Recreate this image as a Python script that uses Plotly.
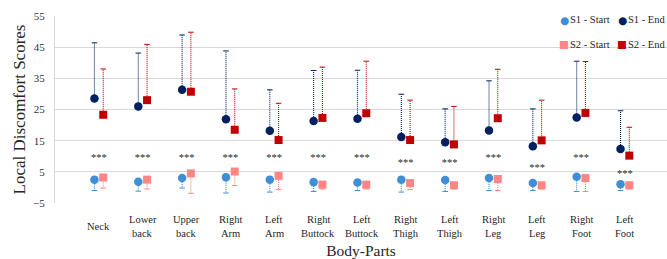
import plotly.graph_objects as go

categories = ["Neck", "Lower<br>back", "Upper<br>back", "Right<br>Arm", "Left<br>Arm",
              "Right<br>Buttock", "Left<br>Buttock", "Right<br>Thigh", "Left<br>Thigh",
              "Right<br>Leg", "Left<br>Leg", "Right<br>Foot", "Left<br>Foot"]

s1_start = [2.5, 1.8, 3.0, 3.3, 2.5, 1.7, 1.6, 2.5, 2.4, 3.0, 1.4, 3.4, 1.0]
s1_start_lo = [-1.0, -1.2, -0.2, -1.8, -1.5, -1.3, -1.0, -1.5, -1.3, -1.0, -1.0, -1.3, -1.0]
s2_start = [3.2, 2.5, 4.5, 5.1, 3.7, 0.9, 0.9, 1.4, 0.7, 2.7, 0.7, 3.0, 0.7]
s2_start_lo = [-0.2, -0.5, -1.9, 0.6, -0.7, -0.5, -0.5, -0.7, -0.5, -1.0, -0.5, -1.3, -0.5]

s1_end = [28.5, 26.0, 31.3, 21.9, 18.2, 21.3, 22.0, 16.2, 14.5, 18.3, 13.2, 22.4, 12.3]
s1_end_hi = [46.4, 43.1, 48.9, 43.8, 31.3, 37.5, 37.6, 29.9, 25.2, 34.2, 25.2, 40.5, 24.6]
s2_end = [23.3, 28.0, 30.7, 18.5, 15.2, 22.3, 23.8, 15.2, 13.8, 22.2, 15.1, 23.9, 10.2]
s2_end_hi = [38.0, 45.9, 49.8, 31.6, 27.0, 38.6, 40.5, 28.0, 26.0, 37.9, 28.0, 40.4, 19.3]

star_y = [9.2, 9.2, 9.2, 9.2, 9.2, 9.2, 9.2, 7.8, 7.8, 9.2, 6.1, 9.2, 4.2]

series_names = ["S1 - Start", "S1 - End", "S2 - Start", "S2 - End"]

C_S1S = "#3F8FD6"
C_S1E = "#002060"
C_S2S = "#FF8585"
C_S2E = "#C00000"
FONT = "Liberation Serif"
TXT = "#262626"

pos = list(range(1, len(categories) + 1))
OFF = 0.1
x1 = [p - OFF for p in pos]
x2 = [p + OFF for p in pos]

fig = go.Figure()


def bars(xs, y0, y1, color):
    lx, ly = [], []
    for x, a, b in zip(xs, y0, y1):
        lx += [x, x, None]
        ly += [a, b, None]
    fig.add_trace(go.Scatter(x=lx, y=ly, mode="lines", showlegend=False, hoverinfo="skip",
                             line=dict(color=color, width=1.1, dash="1px,1px")))
    fig.add_trace(go.Scatter(x=xs, y=y1, mode="markers", showlegend=False, hoverinfo="skip",
                             marker=dict(symbol="line-ew", size=4,
                                         line=dict(color=color, width=1))))


bars(x1, s1_end, s1_end_hi, C_S1E)
bars(x2, s2_end, s2_end_hi, C_S2E)
bars(x1, s1_start, s1_start_lo, C_S1S)
bars(x2, s2_start, s2_start_lo, C_S2S)

fig.add_trace(go.Scatter(x=x1, y=s1_start, mode="markers", name=series_names[0], showlegend=False,
                         marker=dict(symbol="circle", size=8.5, color=C_S1S)))
fig.add_trace(go.Scatter(x=x1, y=s1_end, mode="markers", name=series_names[1], showlegend=False,
                         marker=dict(symbol="circle", size=8.5, color=C_S1E)))
fig.add_trace(go.Scatter(x=x2, y=s2_start, mode="markers", name=series_names[2], showlegend=False,
                         marker=dict(symbol="square", size=8, color=C_S2S)))
fig.add_trace(go.Scatter(x=x2, y=s2_end, mode="markers", name=series_names[3], showlegend=False,
                         marker=dict(symbol="square", size=8, color=C_S2E)))

# significance stars
fig.add_trace(go.Scatter(x=pos, y=star_y, mode="text", text=["***"] * len(pos),
                         showlegend=False, hoverinfo="skip",
                         textfont=dict(family=FONT, size=10.5, color="#2a2a2a")))

PLOT_TOP, PLOT_BOT = 16, 203
H = PLOT_BOT - PLOT_TOP


def py(pix):
    return (PLOT_BOT - pix) / H


def px(pix):
    return (pix - 55) / 612


annotations = []
for p, c in zip(pos, categories):
    lines = c.split("<br>")
    if len(lines) == 1:
        ys = [226.5]
    else:
        ys = [220, 233]
    for ln, yy in zip(lines, ys):
        annotations.append(dict(x=p, y=py(yy), xref="x", yref="paper", text=ln, showarrow=False,
                                yanchor="middle", xanchor="center",
                                font=dict(family=FONT, size=10.5, color=TXT)))

# legend (two rows, right-aligned, as in the original)
legend_items = [
    (series_names[0], "●", C_S1S, 564, 20),
    (series_names[1], "●", C_S1E, 622, 20),
    (series_names[2], "■", C_S2S, 564, 44),
    (series_names[3], "■", C_S2E, 622, 44),
]
for name, glyph, col, gx, gy in legend_items:
    annotations.append(dict(x=px(gx), y=py(gy), xref="paper", yref="paper", text=glyph,
                            showarrow=False, xanchor="center", yanchor="middle",
                            font=dict(family="DejaVu Sans", size=10.5, color=col)))
    annotations.append(dict(x=px(gx + 4), y=py(gy), xref="paper", yref="paper", text=name,
                            showarrow=False, xanchor="left", yanchor="middle",
                            font=dict(family=FONT, size=10.5, color=TXT)))

fig.update_layout(
    width=667, height=259,
    margin=dict(l=55, r=0, t=PLOT_TOP, b=259 - PLOT_BOT),
    plot_bgcolor="white", paper_bgcolor="white",
    font=dict(family=FONT, color=TXT),
    annotations=annotations,
    showlegend=False,
    xaxis=dict(range=[0, 13.96], showgrid=False, zeroline=False, showticklabels=False,
               ticks="", showline=False, automargin=False,
               title=dict(text="Body-Parts", standoff=43,
                          font=dict(family=FONT, size=15.5, color=TXT))),
    yaxis=dict(range=[-5, 55], tick0=-5, dtick=10, showgrid=True, gridcolor="#D9D9D9",
               gridwidth=1, zeroline=False, showline=True, linecolor="#D9D9D9",
               ticks="outside", ticklen=0, ticklabelstandoff=7, automargin=False,
               tickfont=dict(family=FONT, size=11, color="#333333"),
               title=dict(text="Local Discomfort Scores", standoff=3,
                          font=dict(family=FONT, size=17, color=TXT))),
)

fig.write_html("out.html", config={"displayModeBar": False},
               post_script="document.body.style.margin='0';")
